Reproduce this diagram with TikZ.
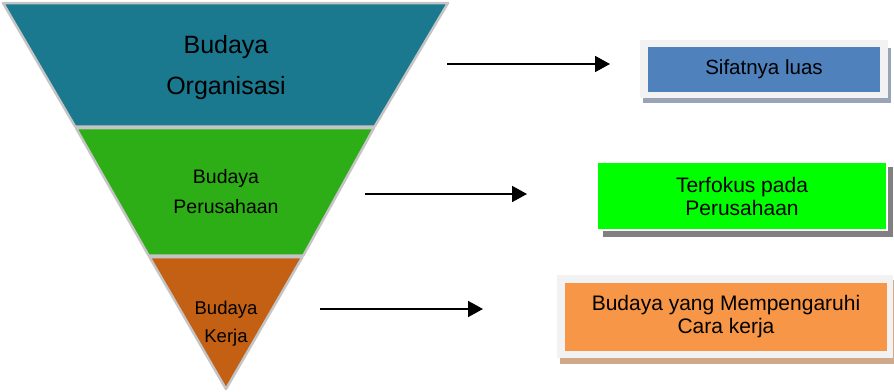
\documentclass[tikz,border=0pt]{standalone}
\usepackage{fontspec}
\setmainfont{Liberation Sans}
\usetikzlibrary{arrows.meta}
\definecolor{tealsec}{HTML}{1A788F}
\definecolor{greensec}{HTML}{2EAE16}
\definecolor{orangesec}{HTML}{C46013}
\definecolor{rim}{HTML}{C4C4C4}
\definecolor{bluebox}{HTML}{4F81BD}
\definecolor{limebox}{HTML}{00FF00}
\definecolor{orangebox}{HTML}{F79646}
\definecolor{frame}{HTML}{F2F2F2}
\definecolor{shadeblue}{HTML}{98A3B6}
\definecolor{shadegray}{HTML}{808080}
\definecolor{shadetan}{HTML}{D0A98A}
\tikzset{
  section/.style={draw=rim, line width=2.5pt, line join=round},
  label/.style={align=center, text=black, inner sep=0pt},
  infobox/.style={draw=none, inner sep=0pt, align=center, text=black,
    font=\fontsize{21}{23}\selectfont},
  pointer/.style={line width=1.8pt, -{Triangle[length=15pt,width=16pt]}}
}
\begin{document}
\begin{tikzpicture}[x=1pt,y=-1pt]
\useasboundingbox (0,0) rectangle (894,391);

% funnel sections
\fill[tealsec] (3,3) -- (448,3) -- (374.7,126.5) -- (75.1,126.5) -- cycle;
\draw[section] (3,3) -- (448,3) -- (374.7,126.5) -- (75.1,126.5) -- cycle;
\fill[greensec] (76.0,128) -- (373.9,128) -- (303.4,255.5) -- (148.6,255.5) -- cycle;
\draw[section] (76.0,128) -- (373.9,128) -- (303.4,255.5) -- (148.6,255.5) -- cycle;
\fill[orangesec] (149.5,257) -- (302.4,257) -- (226,389) -- cycle;
\draw[section] (149.5,257) -- (302.4,257) -- (226,389) -- cycle;

\node[label, font=\fontsize{25}{41}\selectfont] (org) at (226,68) {Budaya\\Organisasi};
\node[label, font=\fontsize{19.5}{30}\selectfont] (per) at (226,192) {Budaya\\Perusahaan};
\node[label, font=\fontsize{18.5}{28}\selectfont] (ker) at (226,324) {Budaya\\Kerja};

% box 1
\fill[shadeblue] (643,48) rectangle (891,103);
\fill[frame] (640,40) rectangle (888,98);
\node[infobox, fill=bluebox, minimum width=232pt, minimum height=45pt,
      font=\fontsize{20.5}{23}\selectfont] (luas) at (764,69.5) {Sifatnya luas};

% box 2
\fill[shadegray] (603,167) rectangle (893,237);
\node[infobox, fill=limebox, draw=white, line width=1.5pt,
      minimum width=290pt, minimum height=68pt] (fokus) at (742,196) {Terfokus pada\\Perusahaan};

% box 3
\fill[shadetan] (560,280) rectangle (894,364);
\fill[frame] (557,275) rectangle (893,358);
\node[infobox, fill=orangebox, minimum width=322pt, minimum height=68pt] (cara) at (726,317)
  {Budaya yang Mempengaruhi\\Cara kerja};

% connectors
\coordinate (p1) at (447,64);
\coordinate (q1) at (610,64);
\coordinate (p2) at (365,194);
\coordinate (q2) at (527,194);
\coordinate (p3) at (320,309);
\coordinate (q3) at (483,309);
\draw[pointer] (p1) -- (q1);
\draw[pointer] (p2) -- (q2);
\draw[pointer] (p3) -- (q3);
\end{tikzpicture}
\end{document}
